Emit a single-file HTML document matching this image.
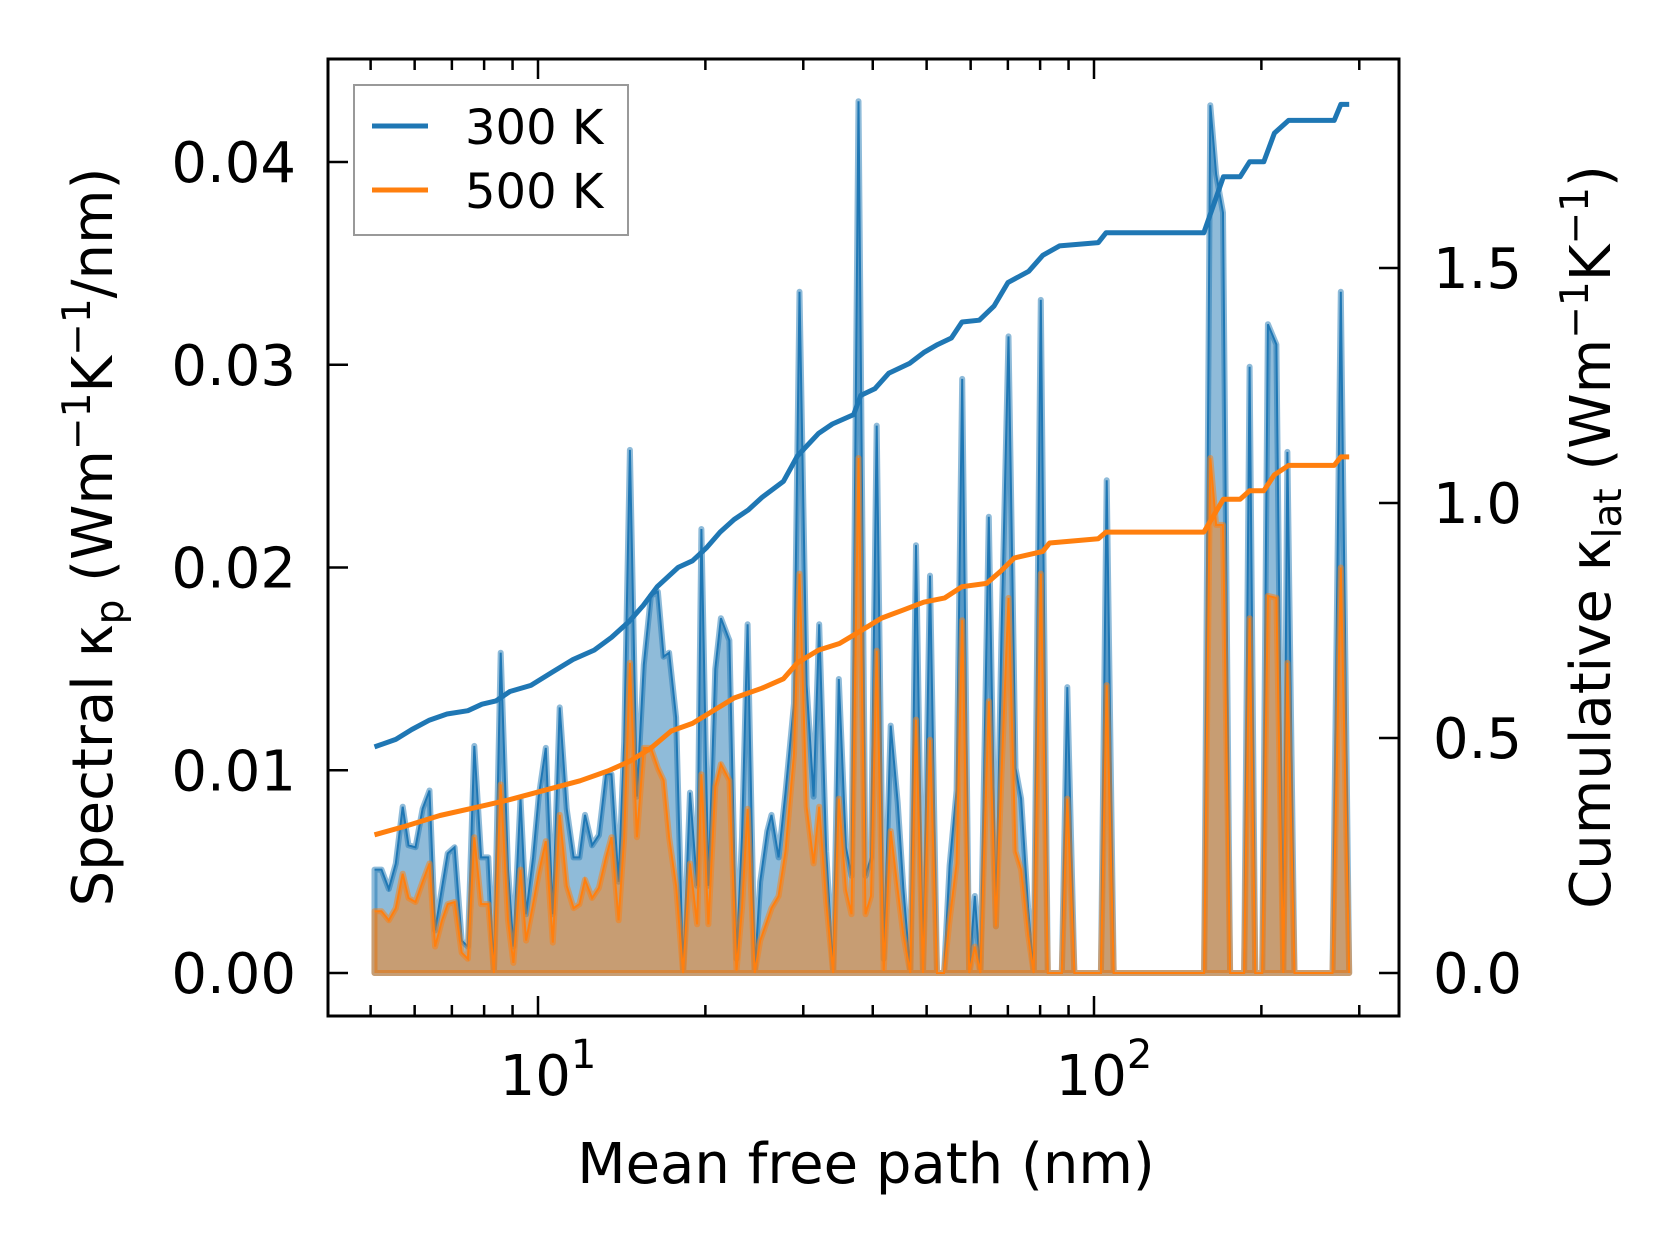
<!DOCTYPE html>
<html><head><meta charset="utf-8"><style>
html,body{margin:0;padding:0;background:#fff;}
svg text{font-family:"DejaVu Sans","Liberation Sans",sans-serif;fill:#000;}
</style></head><body>
<svg id="chart" width="1679" height="1254" viewBox="0 0 1679 1254" xmlns="http://www.w3.org/2000/svg">
<rect width="1679" height="1254" fill="#fff"/>
<g id="plot"></g>
<g id="axes"></g>
</svg>
<script>
const mfp = [5.08,5.23,5.39,5.55,5.71,5.85,6.02,6.20,6.38,6.53,6.72,6.88,7.08,7.29,7.48,7.68,7.90,8.14,8.33,8.57,8.83,9.03,9.30,9.52,9.80,10.03,10.33,10.63,10.94,11.26,11.59,11.87,12.15,12.51,12.87,13.25,13.56,13.96,14.29,14.63,15.06,15.50,15.96,16.43,16.82,17.21,17.72,18.24,18.77,19.33,19.67,20.25,20.84,21.33,22.09,22.75,23.28,23.82,24.53,25.10,25.85,26.30,27.08,27.87,28.87,29.54,30.41,31.31,32.05,32.99,33.96,34.76,35.79,36.63,37.71,38.82,39.72,40.66,41.86,43.09,44.36,45.39,46.74,47.84,49.25,50.70,52.19,53.73,54.99,56.61,57.94,59.64,61.04,62.47,64.69,66.60,68.17,70.18,72.25,73.94,76.12,77.91,80.21,82.57,85.00,87.50,89.55,92.19,96.30,102.9,105.4,108.5,114.6,155.5,157.8,161.9,165.8,170.6,175.7,180.8,186.2,190.5,195.0,200.7,205.5,212.8,219.0,222.8,229.4,238.9,262.3,268.5,277.9,287.7];
const spec300 = [.0051,.0051,.00415,.0054,.0082,.0063,.0062,.0081,.0090,.0021,.0042,.0059,.0062,.0016,.0013,.0112,.0057,.0057,0,.0158,.0051,.0013,.0086,.0029,.0057,.0087,.0111,.0029,.0131,.0081,.0057,.0057,.0078,.0063,.0068,.0098,.0098,.0045,.0114,.0258,.0087,.0152,.0186,.0188,.0156,.0158,.0126,0,.0089,.0043,.0219,.0043,.0150,.0175,.0164,.0007,.0067,.0172,0,.0045,.0070,.0078,.0057,.0089,.0133,.0336,.0142,.0087,.0172,.0060,0,.0145,.0062,.0048,.0430,.0048,.0057,.0270,.0007,.0122,.0084,.0042,0,.0211,0,.0196,0,0,.0053,.0090,.0293,0,.0038,0,.0225,.0023,.0167,.0314,.0101,.0086,.0032,0,.0332,0,0,0,.0141,0,0,0,.0243,0,0,0,0,.0428,.0394,.0375,0,0,0,.0299,0,0,.0320,.0310,0,.0257,0,0,0,0,.0336,0];
const spec500 = [.00305,.00305,.0026,.0032,.0049,.0037,.0035,.0045,.0054,.0013,.0026,.0034,.0035,.0010,.0007,.0067,.0034,.0034,0,.0093,.0026,.0005,.0051,.0016,.0034,.0049,.0065,.0015,.0078,.0043,.0032,.0034,.0046,.0037,.0042,.0057,.0067,.0026,.0067,.0153,.0067,.0111,.0111,.0101,.0095,.0067,.0043,0,.0054,.0024,.0098,.0024,.0092,.0103,.0095,.0001,.0032,.0081,0,.0016,.0026,.0032,.0038,.0060,.0108,.0197,.0082,.0054,.0082,.0035,0,.0086,.0041,.0029,.0254,.0029,.0038,.0159,.0001,.0070,.0041,.0019,0,.0125,0,.0115,0,0,.0026,.0054,.0174,0,.0013,0,.0134,.0023,.0098,.0185,.0060,.0051,.0019,0,.0197,0,0,0,.0086,0,0,0,.0142,0,0,0,0,.0254,.0221,.0221,0,0,0,.0175,0,0,.0186,.0185,0,.0153,0,0,0,0,.0200,0];
const cumX300 = [5.08,5.55,5.93,6.38,6.86,7.48,7.93,8.40,8.90,9.71,10.60,11.56,12.62,13.56,14.59,15.46,16.38,17.87,18.96,20.07,21.26,22.53,23.87,25.29,27.63,29.28,31.95,33.85,36.95,38.07,40.34,42.74,46.59,49.4,52.3,55.4,57.9,62.2,66.1,70.0,76.3,80.9,86.7,101.8,105.1,157.6,170.9,183.1,190.5,202.0,211.1,223.9,270.4,277.9,287.7];
const cum300 = [0.481,0.497,0.518,0.538,0.551,0.558,0.572,0.579,0.599,0.612,0.640,0.667,0.687,0.714,0.748,0.782,0.822,0.863,0.877,0.904,0.938,0.965,0.985,1.012,1.046,1.100,1.148,1.168,1.188,1.229,1.243,1.276,1.297,1.320,1.337,1.351,1.385,1.389,1.419,1.469,1.493,1.527,1.547,1.554,1.575,1.575,1.694,1.694,1.726,1.726,1.787,1.814,1.814,1.848,1.848];
const cumX500 = [5.08,5.76,6.66,7.93,8.90,10.29,11.90,13.37,14.59,15.91,17.36,18.96,20.66,22.53,25.29,27.63,29.28,31.95,34.85,38.07,41.5,45.3,49.4,53.9,57.9,64.1,68.1,71.9,80.9,83.2,101.8,105.1,157.6,170.9,183.1,190.5,202.0,211.1,223.9,270.4,277.9,287.7];
const cum500 = [0.294,0.312,0.335,0.355,0.369,0.389,0.409,0.430,0.450,0.477,0.515,0.531,0.558,0.585,0.606,0.626,0.660,0.687,0.701,0.728,0.755,0.772,0.789,0.798,0.822,0.829,0.856,0.883,0.897,0.915,0.924,0.938,0.938,1.008,1.008,1.026,1.026,1.060,1.080,1.080,1.098,1.098];
const leftTicks = [0,0.01,0.02,0.03,0.04];
const leftTickLabels = ["0.00","0.01","0.02","0.03","0.04"];
const rightTicks = [0,0.5,1.0,1.5];
const rightTickLabels = ["0.0","0.5","1.0","1.5"];
const xMajor = [10,100];
const xMajorExp = ["1","2"];

const L=328,R=1399,T=59,B=1016;
const X = v => 538 + (Math.log10(v)-1)*556;
const YL = v => 973 - v*20275;
const YR = v => 973 - v*470;
const NS="http://www.w3.org/2000/svg";
const plot=document.getElementById('plot'), axes=document.getElementById('axes');
function mk(tag, attrs, parent){const e=document.createElementNS(NS,tag);for(const k in attrs)e.setAttribute(k,attrs[k]);parent.appendChild(e);return e;}

function area(vals, color, name){
  let d='M'+X(mfp[0])+','+YL(0);
  mfp.forEach((m,i)=>{d+=' L'+X(m).toFixed(1)+','+YL(vals[i]).toFixed(1);});
  d+=' L'+X(mfp[mfp.length-1])+','+YL(0)+' Z';
  const p=mk('path',{d:d,fill:color,'fill-opacity':0.5,stroke:color,'stroke-opacity':0.5,'stroke-width':6,'stroke-linejoin':'round'},plot);
  
  
  let d2='';
  mfp.forEach((m,i)=>{d2+=(i?' L':'M')+X(m).toFixed(1)+','+YL(vals[i]).toFixed(1);});
  const l=mk('path',{d:d2,fill:'none',stroke:color,'stroke-width':2},plot);
  
  
}
area(spec300,'#1f77b4','spectral-300k');
area(spec500,'#ff7f0e','spectral-500k');

function cumLine(xs, vals, color, name){
  let d='';
  xs.forEach((m,i)=>{d+=(i?' L':'M')+X(m).toFixed(1)+','+YR(vals[i]).toFixed(1);});
  const l=mk('path',{d:d,fill:'none',stroke:color,'stroke-width':5,'stroke-linejoin':'round'},plot);
  
  
}
cumLine(cumX300,cum300,'#1f77b4','cumulative-300k');
cumLine(cumX500,cum500,'#ff7f0e','cumulative-500k');

const fr=mk('rect',{x:L,y:T,width:R-L,height:B-T,fill:'none',stroke:'#000','stroke-width':3},axes);



leftTicks.forEach((v,i)=>{
  const y=YL(v);
  mk('line',{x1:L,x2:L+20,y1:y,y2:y,stroke:'#000','stroke-width':2.5},axes);
  const t=mk('text',{x:296,y:y+20,'text-anchor':'end','font-size':56},axes);
  t.textContent=leftTickLabels[i];
  
  
});
rightTicks.forEach((v,i)=>{
  const y=YR(v);
  mk('line',{x1:R-20,x2:R,y1:y,y2:y,stroke:'#000','stroke-width':2.5},axes);
  const t=mk('text',{x:1433,y:y+20,'text-anchor':'start','font-size':56},axes);
  t.textContent=rightTickLabels[i];
  
  
});
for(let dec=1;dec<=100;dec*=10){
  for(let k=1;k<10;k++){
    const v=dec*k, x=X(v);
    if(x<L||x>R) continue;
    const major=(k===1), len=major?20:11;
    mk('line',{x1:x,x2:x,y1:B,y2:B-len,stroke:'#000','stroke-width':2.5},axes);
    mk('line',{x1:x,x2:x,y1:T,y2:T+len,stroke:'#000','stroke-width':2.5},axes);
  }
}
xMajor.forEach((v,i)=>{
  const t=mk('text',{x:X(v)+10,y:1095,'text-anchor':'middle','font-size':56},axes);
  
  
  t.innerHTML='10<tspan font-size="40" dy="-27">'+xMajorExp[i]+'</tspan>';
});
</script>
<script>
const s=document.getElementById('chart');
s.insertAdjacentHTML('beforeend',`
<text x="866" y="1183" text-anchor="middle" font-size="56">Mean free path (nm)</text>
<text transform="translate(112,537) rotate(-90)" text-anchor="middle" font-size="56">Spectral κ<tspan font-size="39" dy="11">p</tspan><tspan dy="-11"> (Wm</tspan><tspan font-size="39" dy="-22">−1</tspan><tspan dy="22">K</tspan><tspan font-size="39" dy="-22">−1</tspan><tspan dy="22">/nm)</tspan></text>
<text transform="translate(1610,537) rotate(-90)" text-anchor="middle" font-size="56">Cumulative κ<tspan font-size="39" dy="11">lat</tspan><tspan dy="-11"> (Wm</tspan><tspan font-size="39" dy="-22">−1</tspan><tspan dy="22">K</tspan><tspan font-size="39" dy="-22">−1</tspan><tspan dy="22">)</tspan></text>
<g>
<rect x="354" y="85" width="274" height="150" fill="#fff" fill-opacity="0.8" stroke="#999" stroke-width="2"/>
<line x1="372" x2="428" y1="126" y2="126" stroke="#1f77b4" stroke-width="5"/>
<text x="465" y="144" font-size="48">300 K</text>
<line x1="372" x2="428" y1="190" y2="190" stroke="#ff7f0e" stroke-width="5"/>
<text x="465" y="208" font-size="48">500 K</text>
</g>`);
</script>
</body></html>
